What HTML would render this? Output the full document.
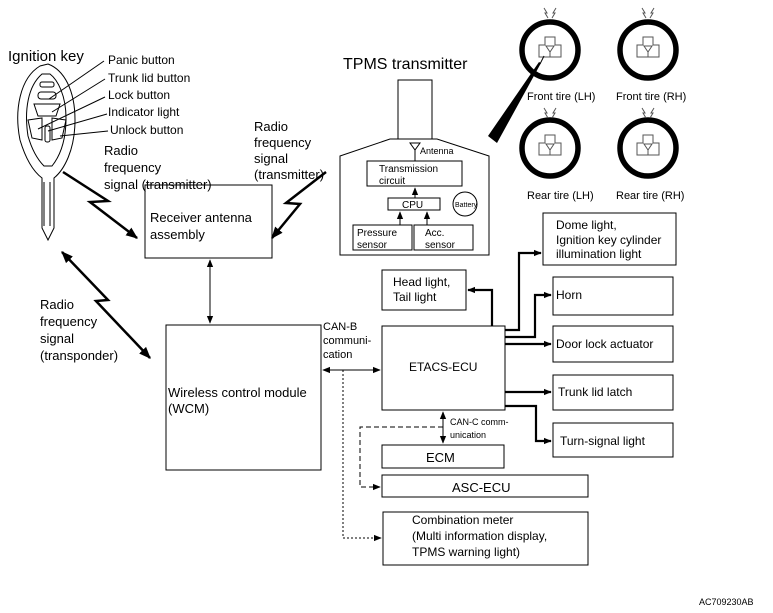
<!DOCTYPE html>
<html><head><meta charset="utf-8"><style>
html,body{margin:0;padding:0;background:#fff;}
svg{display:block;font-family:"Liberation Sans",Arial,sans-serif;}
text{fill:#000;}
</style></head><body>
<svg width="773" height="613" viewBox="0 0 773 613" xmlns="http://www.w3.org/2000/svg">
<defs>
<marker id="a" viewBox="0 0 10 10" refX="9" refY="5" markerWidth="8" markerHeight="8" orient="auto-start-reverse" markerUnits="userSpaceOnUse"><path d="M0,1 L10,5 L0,9z" fill="#000"/></marker>
<marker id="b" viewBox="0 0 10 10" refX="9" refY="5" markerWidth="12" markerHeight="12" orient="auto-start-reverse" markerUnits="userSpaceOnUse"><path d="M0,1 L10,5 L0,9z" fill="#000"/></marker>
</defs>
<g fill="none" stroke="#000" stroke-width="1">
<!-- key -->
<path d="M40,66 C20,78 14,110 20,140 C26,160 34,172 42,178 L42,228 L48,240 L54,228 L54,178 C64,170 75,150 75,120 C75,90 64,70 48,64 Z"/>
<path d="M42,74 C28,86 24,110 28,136 C32,150 38,160 44,166 L52,166 C60,156 66,140 66,118 C66,96 58,80 50,74 Z"/>
<rect x="40" y="82" width="14" height="5" rx="2"/>
<rect x="38" y="92" width="18" height="7" rx="3"/>
<path d="M34,104 L60,104 L56,116 L38,116 Z"/>
<path d="M28,120 L42,118 L42,140 L32,138 Z"/>
<path d="M52,118 L66,120 L62,138 L52,140 Z"/>
<rect x="45" y="126" width="5" height="16" rx="2"/>
<path d="M44,182 L44,226 M50,182 L50,226"/>
<line x1="49" y1="99" x2="104" y2="61"/><line x1="52" y1="112" x2="105" y2="79"/>
<line x1="38" y1="129" x2="105" y2="97"/><line x1="48" y1="131" x2="107" y2="114"/>
<line x1="60" y1="136" x2="108" y2="131"/>
<!-- lightning arrows -->
<path d="M63,172 L108,201 L90,202 L137,238" stroke-width="2.5" marker-end="url(#b)"/>
<path d="M326,172 L286,203 L300,204 L272,238" stroke-width="2.5" marker-end="url(#b)"/>
<path d="M62,252 L108,300 L96,301 L150,358" stroke-width="2.5" marker-start="url(#b)" marker-end="url(#b)"/>
<!-- boxes -->
<rect x="145" y="185" width="127" height="73"/>
<rect x="166" y="325" width="155" height="145"/>
<rect x="382" y="326" width="123" height="84"/>
<rect x="382" y="270" width="84" height="40"/>
<rect x="543" y="213" width="133" height="52"/>
<rect x="553" y="277" width="120" height="38"/>
<rect x="553" y="326" width="120" height="36"/>
<rect x="553" y="375" width="120" height="35"/>
<rect x="553" y="423" width="120" height="34"/>
<rect x="382" y="445" width="122" height="23"/>
<rect x="382" y="475" width="206" height="22"/>
<rect x="383" y="512" width="205" height="53"/>
<!-- TPMS -->
<rect x="398" y="80" width="34" height="59"/>
<path d="M340,255 L340,156 L390,139 L437,139 L489,156 L489,255 Z"/>
<rect x="367" y="161" width="95" height="25"/>
<rect x="388" y="198" width="52" height="12"/>
<rect x="353" y="225" width="59" height="25"/>
<rect x="414" y="225" width="59" height="25"/>
<circle cx="465" cy="204" r="12"/>
<path d="M410,143 L420,143 L415,150 Z M415,150 L415,161"/>
<line x1="415" y1="198" x2="415" y2="188" marker-end="url(#a)"/>
<line x1="400" y1="225" x2="400" y2="212" marker-end="url(#a)"/>
<line x1="427" y1="225" x2="427" y2="212" marker-end="url(#a)"/>
<!-- connectors -->
<line x1="210" y1="260" x2="210" y2="323" marker-start="url(#a)" marker-end="url(#a)"/>
<line x1="323" y1="370" x2="380" y2="370" marker-start="url(#a)" marker-end="url(#a)"/>
<line x1="443" y1="412" x2="443" y2="443" marker-start="url(#a)" marker-end="url(#a)"/>
<path d="M343,370 L343,538 L381,538" stroke-dasharray="2,2" marker-end="url(#a)"/>
<path d="M443,427 L360,427 L360,487 L380,487" stroke-dasharray="5,3" marker-end="url(#a)"/>
<g stroke-width="2.2">
<path d="M492,326 L492,290 L468,290" marker-end="url(#a)"/>
<path d="M505,330 L519,330 L519,253 L541,253" marker-end="url(#a)"/>
<path d="M505,337 L535,337 L535,295 L551,295" marker-end="url(#a)"/>
<path d="M505,344 L551,344" marker-end="url(#a)"/>
<path d="M505,392 L551,392" marker-end="url(#a)"/>
<path d="M505,406 L536,406 L536,441 L551,441" marker-end="url(#a)"/>
</g>
<!-- tires -->
<g stroke-width="5.5">
<circle cx="550" cy="50" r="28"/><circle cx="648" cy="50" r="28"/>
<circle cx="550" cy="148" r="28"/><circle cx="648" cy="148" r="28"/>
</g>
<g stroke="#555">
<path d="M545,37 h10 v8 h6 v12 h-22 v-12 h6z M546,46 h8 l-4,6z M550,52 v5"/>
<path d="M643,37 h10 v8 h6 v12 h-22 v-12 h6z M644,46 h8 l-4,6z M648,52 v5"/>
<path d="M545,135 h10 v8 h6 v12 h-22 v-12 h6z M546,144 h8 l-4,6z M550,150 v5"/>
<path d="M643,135 h10 v8 h6 v12 h-22 v-12 h6z M644,144 h8 l-4,6z M648,150 v5"/>
<path d="M544,8 l3,5 l-2,0 l3,5 M556,8 l-3,5 l2,0 l-3,5 M642,8 l3,5 l-2,0 l3,5 M654,8 l-3,5 l2,0 l-3,5"/>
<path d="M544,108 l3,5 l-2,0 l3,5 M556,108 l-3,5 l2,0 l-3,5 M642,108 l3,5 l-2,0 l3,5 M654,108 l-3,5 l2,0 l-3,5"/>
</g>
</g>
<path d="M541,63 L539,62 L488,136 L497,143 Z" fill="#000"/>
<line x1="540" y1="64" x2="544" y2="56" stroke="#000"/>
<!-- text -->
<g font-size="12">
<text x="8" y="61" font-size="15">Ignition key</text>
<text x="108" y="64">Panic button</text>
<text x="108" y="82">Trunk lid button</text>
<text x="108" y="99">Lock button</text>
<text x="108" y="116">Indicator light</text>
<text x="110" y="134">Unlock button</text>
<text x="104" y="155" font-size="13">Radio</text>
<text x="104" y="172" font-size="13">frequency</text>
<text x="104" y="189" font-size="13">signal (transmitter)</text>
<text x="254" y="131" font-size="13">Radio</text>
<text x="254" y="147" font-size="13">frequency</text>
<text x="254" y="163" font-size="13">signal</text>
<text x="254" y="179" font-size="13">(transmitter)</text>
<text x="40" y="309" font-size="13">Radio</text>
<text x="40" y="326" font-size="13">frequency</text>
<text x="40" y="343" font-size="13">signal</text>
<text x="40" y="360" font-size="13">(transponder)</text>
<text x="150" y="222" font-size="13">Receiver antenna</text>
<text x="150" y="239" font-size="13">assembly</text>
<text x="168" y="397" font-size="13">Wireless control module</text>
<text x="168" y="413" font-size="13">(WCM)</text>
<text x="343" y="69" font-size="16">TPMS transmitter</text>
<text x="420" y="154" font-size="9">Antenna</text>
<text x="379" y="172" font-size="10">Transmission</text>
<text x="379" y="184" font-size="10">circuit</text>
<text x="402" y="208" font-size="10">CPU</text>
<text x="357" y="236" font-size="10">Pressure</text>
<text x="357" y="248" font-size="10">sensor</text>
<text x="425" y="236" font-size="10">Acc.</text>
<text x="425" y="248" font-size="10">sensor</text>
<text x="455" y="207" font-size="7">Battery</text>
<g font-size="11">
<text x="527" y="100">Front tire (LH)</text><text x="616" y="100">Front tire (RH)</text>
<text x="527" y="199">Rear tire (LH)</text><text x="616" y="199">Rear tire (RH)</text>
</g>
<text x="556" y="229">Dome light,</text>
<text x="556" y="244">Ignition key cylinder</text>
<text x="556" y="258">illumination light</text>
<text x="393" y="286">Head light,</text>
<text x="393" y="301">Tail light</text>
<text x="556" y="299">Horn</text>
<text x="556" y="348">Door lock actuator</text>
<text x="558" y="396">Trunk lid latch</text>
<text x="560" y="445">Turn-signal light</text>
<text x="323" y="330" font-size="11">CAN-B</text>
<text x="323" y="344" font-size="11">communi-</text>
<text x="323" y="358" font-size="11">cation</text>
<text x="409" y="371">ETACS-ECU</text>
<text x="450" y="425" font-size="9">CAN-C comm-</text>
<text x="450" y="438" font-size="9">unication</text>
<text x="426" y="462" font-size="13">ECM</text>
<text x="452" y="492" font-size="13">ASC-ECU</text>
<text x="412" y="524">Combination meter</text>
<text x="412" y="540">(Multi information display,</text>
<text x="412" y="556">TPMS warning light)</text>
<text x="699" y="605" font-size="9">AC709230AB</text>
</g>
</svg>
</body></html>
